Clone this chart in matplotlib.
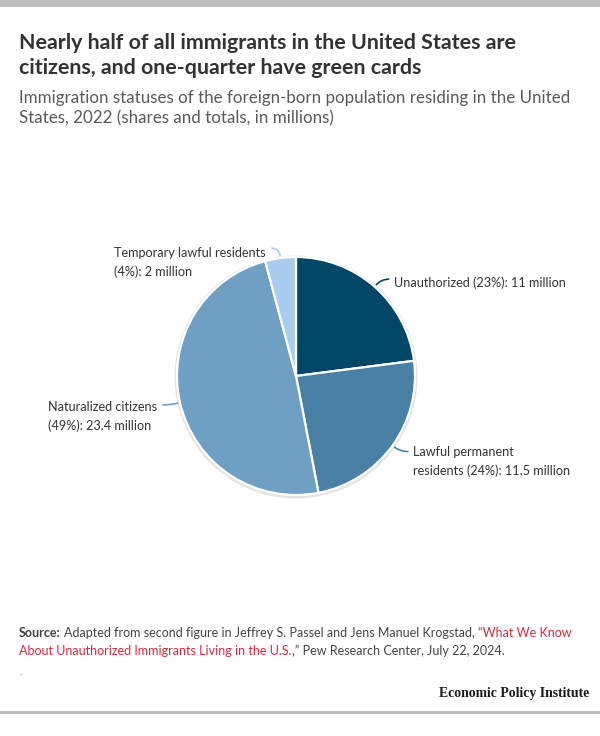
import matplotlib
matplotlib.use("Agg")
import matplotlib.pyplot as plt
import numpy as np
from matplotlib.path import Path
from matplotlib.patches import PathPatch, Circle, Rectangle

categories = ["Unauthorized", "Lawful permanent residents", "Naturalized citizens", "Temporary lawful residents"]
values = [11.0, 11.5, 23.4, 2.0]
shares = [23, 24, 49, 4]
colors = ["#034766", "#4a80a4", "#6f9fc3", "#a9cdef"]
label_texts = [
    "Unauthorized (23%): 11 million",
    "Lawful permanent\nresidents (24%): 11.5 million",
    "Naturalized citizens\n(49%): 23.4 million",
    "Temporary lawful residents\n(4%): 2 million",
]

W, H = 600, 736
fig = plt.figure(figsize=(W / 100, H / 100), dpi=100)
ax = fig.add_axes([0, 0, 1, 1])
ax.set_xlim(0, W)
ax.set_ylim(0, H)
ax.axis("off")

def Y(y):
    return H - y

BODY = ["Lato", "DejaVu Sans"]

# top & bottom gray bars
ax.add_patch(Rectangle((0, Y(7)), W, 7, color="#bdbdbd", lw=0))
ax.add_patch(Rectangle((0, Y(714)), W, 3.5, color="#bdbdbd", lw=0))

# Title and subtitle
ax.text(19, Y(33), "Nearly half of all immigrants in the United States are\ncitizens, and one-quarter have green cards",
        fontsize=15.4, fontweight="bold", color="#333333", family=BODY, va="top", ha="left", linespacing=1.3)
ax.text(19, Y(90), "Immigration statuses of the foreign-born population residing in the United\nStates, 2022 (shares and totals, in millions)",
        fontsize=12.2, color="#5a5a5a", family=BODY, va="top", ha="left", linespacing=1.33)

# Pie
cx, cy, R = 296, Y(376), 119
ax.add_patch(Circle((cx, cy - 1), R + 2.5, color="#e4e4e4", lw=0, zorder=0))
wedges, _ = ax.pie(values, colors=colors, startangle=90, counterclock=False,
                   center=(cx, cy), radius=R, frame=True,
                   wedgeprops=dict(edgecolor="white", linewidth=1.6))
ax.set_xlim(0, W)
ax.set_ylim(0, H)
ax.set_aspect("equal")
ax.axis("off")

# Leader lines and labels
total = sum(values)
cum = np.cumsum([0] + values)
dirs = [1, 1, -1, -1]
# (x, y of first-line centre)
label_pos = [(394, 283), (413, 452), (48, 407), (114, 253)]
for i in range(len(values)):
    mid = 90 - (cum[i] + values[i] / 2) / total * 360
    u = np.array([np.cos(np.radians(mid)), np.sin(np.radians(mid))])
    p0 = np.array([cx, cy]) + (R + 2) * u
    p1 = np.array([cx, cy]) + (R + 10) * u
    p2 = p1 + np.array([8 * dirs[i], 0])
    path = Path([p0, p1, p2], [Path.MOVETO, Path.CURVE3, Path.CURVE3])
    ax.add_patch(PathPatch(path, fc="none", ec=colors[i], lw=1.2))
    x, y = label_pos[i]
    if "\n" in label_texts[i]:
        ax.text(x, Y(y - 6), label_texts[i], fontsize=9.1, color="#333333", family=BODY,
                ha="left", va="top", linespacing=1.6)
    else:
        ax.text(x, Y(y), label_texts[i], fontsize=9.1, color="#333333", family=BODY,
                ha="left", va="center")

# Source
fs = 9.0
t1 = ax.text(19, Y(637), "Source:", fontsize=fs, fontweight="bold", color="#444444", family=BODY, va="baseline")
t2 = ax.annotate("Adapted from second figure in Jeffrey S. Passel and Jens Manuel Krogstad, ",
                 xy=(1, 0), xycoords=t1, xytext=(2.2, 0), textcoords="offset points",
                 va="bottom", fontsize=fs, color="#444444", family=BODY)
t3 = ax.annotate("\u201cWhat We Know", xy=(1, 0), xycoords=t2, va="bottom", fontsize=fs, color="#d52b3a", family=BODY)
t4 = ax.text(19, Y(655), "About Unauthorized Immigrants Living in the U.S.", fontsize=fs, color="#d52b3a", family=BODY, va="baseline")
ax.annotate(",\u201d Pew Research Center, July 22, 2024.", xy=(1, 0), xycoords=t4, va="bottom",
            fontsize=fs, color="#444444", family=BODY)
ax.text(19, Y(675), ".", fontsize=7, color="#444444", family=BODY, va="baseline")

ax.text(589, Y(697), "Economic Policy Institute", fontsize=9.9, fontweight="bold", color="#1a1a1a",
        family=["Liberation Serif", "DejaVu Serif"], ha="right", va="baseline")

fig.savefig("out.png", dpi=100)
